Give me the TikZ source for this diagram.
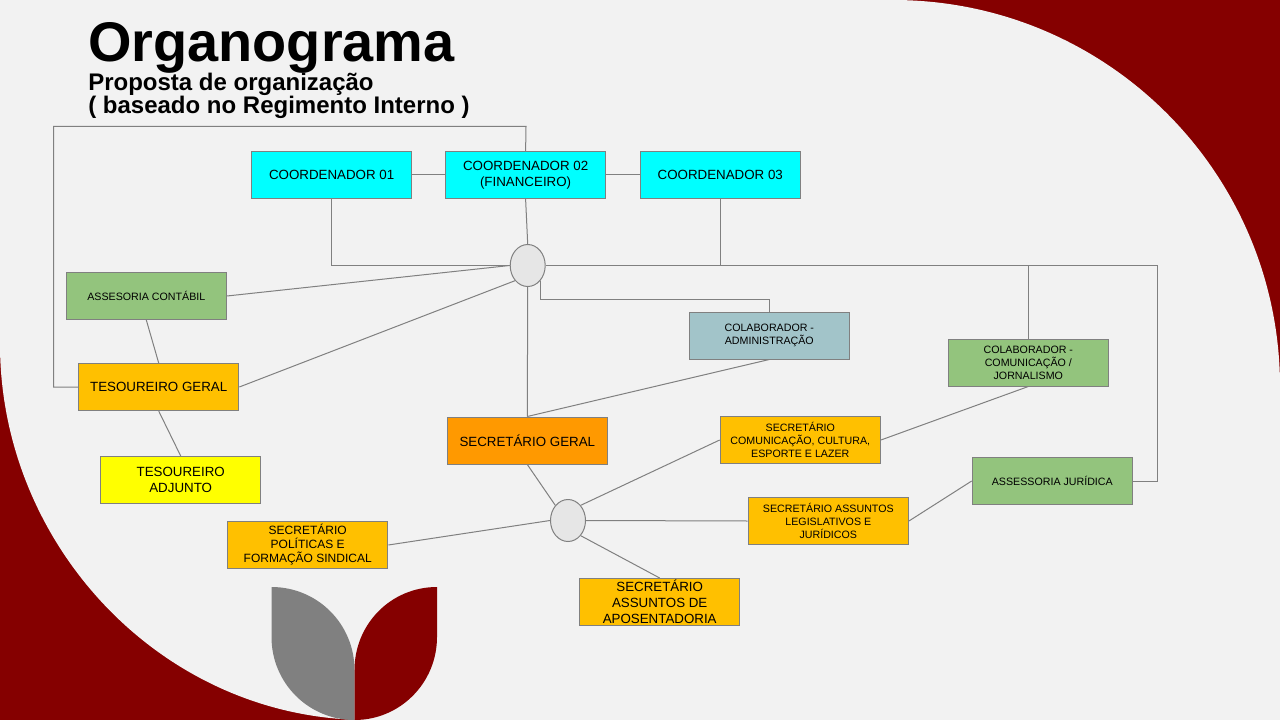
\documentclass[tikz,border=0pt]{standalone}
\usepackage{fontspec}
\setmainfont{Liberation Sans}
\usetikzlibrary{shapes.geometric}
\definecolor{bgc}{HTML}{F2F2F2}
\definecolor{darkred}{HTML}{850000}
\definecolor{linec}{HTML}{808080}
\definecolor{cyanbox}{HTML}{00FFFF}
\definecolor{amberbox}{HTML}{FFC000}
\definecolor{orangebox}{HTML}{FF9900}
\definecolor{yellowbox}{HTML}{FFFF00}
\definecolor{greenbox}{HTML}{93C47D}
\definecolor{tealbox}{HTML}{A2C4C9}
\definecolor{hubc}{HTML}{E6E6E6}
\tikzset{
  x=0.75pt,y=-0.75pt,
  orgbox/.style={draw=linec,line width=0.75pt,rectangle,minimum width=120.2pt,minimum height=35.25pt,inner sep=0pt,align=center},
  bigt/.style={font=\fontsize{10}{12}\selectfont},
  midt/.style={font=\fontsize{9}{10.5}\selectfont},
  smallt/.style={font=\fontsize{8}{9.7}\selectfont},
  hub/.style={draw=linec,line width=0.75pt,fill=hubc,ellipse,minimum width=26.25pt,minimum height=31.5pt,inner sep=0pt},
  link/.style={draw=linec,line width=0.75pt},
}
\begin{document}
\begin{tikzpicture}
\useasboundingbox (0,0) rectangle (1280,720);
\fill[darkred] (0,0) rectangle (1280,720);
\fill[bgc] (0,0) -- (893,0) .. controls (1107,0) and (1280,173) .. (1280,387)
  -- (1280,720) -- (368,720) .. controls (163,720) and (0,546) .. (0,344) -- cycle;
\fill[linec] (271.5,587) .. controls (317.5,587) and (354.5,624) .. (354.5,670) -- (354.5,720)
  .. controls (308.5,720) and (271.5,683) .. (271.5,637) -- cycle;
\fill[darkred] (437,587) .. controls (391,587) and (354.5,624) .. (354.5,670) -- (354.5,720)
  .. controls (400,720) and (437,683) .. (437,637) -- cycle;
\node[anchor=base west,inner sep=0pt,font=\bfseries\fontsize{41.9}{50}\selectfont] (title) at (88,62) {Organograma};
\node[anchor=base west,inner sep=0pt,align=left,font=\bfseries\fontsize{18}{17.25}\selectfont] (sub) at (88,113.5) {Proposta de organização\\( baseado no Regimento Interno )};
% nodes
\node[orgbox,bigt,fill=cyanbox] (c1) at (331.6,175) {COORDENADOR 01};
\node[orgbox,bigt,fill=cyanbox] (c2) at (525.6,175) {COORDENADOR 02\\(FINANCEIRO)};
\node[orgbox,bigt,fill=cyanbox] (c3) at (720.3,175) {COORDENADOR 03};
\node[orgbox,smallt,fill=greenbox] (contab) at (146.3,296) {ASSESORIA CONTÁBIL};
\node[orgbox,bigt,fill=amberbox] (tes) at (158.7,387) {TESOUREIRO GERAL};
\node[orgbox,bigt,fill=yellowbox] (adj) at (180.7,480) {TESOUREIRO\\ADJUNTO};
\node[orgbox,bigt,fill=orangebox] (sg) at (527.3,440.5) {SECRETÁRIO GERAL};
\node[orgbox,smallt,fill=tealbox] (adm) at (769.3,335.5) {COLABORADOR -\\ADMINISTRAÇÃO};
\node[orgbox,smallt,fill=greenbox] (com) at (1028.3,362.5) {COLABORADOR -\\COMUNICAÇÃO /\\JORNALISMO};
\node[orgbox,smallt,fill=amberbox] (scom) at (800.3,440) {SECRETÁRIO\\COMUNICAÇÃO, CULTURA,\\ESPORTE E LAZER};
\node[orgbox,smallt,fill=amberbox] (sleg) at (828.3,521) {SECRETÁRIO ASSUNTOS\\LEGISLATIVOS E\\JURÍDICOS};
\node[orgbox,smallt,fill=greenbox] (jur) at (1052.3,481) {ASSESSORIA JURÍDICA};
\node[orgbox,midt,fill=amberbox] (spol) at (307.7,545) {SECRETÁRIO\\POLÍTICAS E\\FORMAÇÃO SINDICAL};
\node[orgbox,bigt,fill=amberbox] (apos) at (659.7,602) {SECRETÁRIO\\ASSUNTOS DE\\APOSENTADORIA};
\node[hub] (e1) at (527.7,265.5) {};
\node[hub] (e2) at (568,520.5) {};
% elbow coordinates
\coordinate (topr) at (526,126.5);
\coordinate (topl) at (53.5,126.5);
\coordinate (botl) at (53.5,387);
\coordinate (rtop) at (1157.5,265.5);
\coordinate (rbot) at (1157.5,481);
\coordinate (admy) at (769.3,299.5);
% connectors
\draw[link] (c2.north) -- (topr) -- (topl) -- (botl) -- (tes.west);
\draw[link] (c1.east) -- (c2.west);
\draw[link] (c2.east) -- (c3.west);
\draw[link] (c2.south) -- (e1.north);
\draw[link] (c1.south) |- (e1.west);
\draw[link] (c3.south) |- (e1.east);
\draw[link] (e1.east) -- (rtop) -- (rbot) -- (jur.east);
\draw[link] (com.north) -- (com.north |- rtop);
\draw[link] (e1.south east) |- (admy) -- (adm.north);
\draw[link] (contab.east) -- (e1.west);
\draw[link] (tes.east) -- (e1.south west);
\draw[link] (e1.south) -- (sg.north);
\draw[link] (contab.south) -- (tes.north);
\draw[link] (tes.south) -- (adj.north);
\draw[link] (sg.north) -- (adm.south);
\draw[link] (sg.south) -- (e2.north west);
\draw[link] (e2.north east) -- (scom.west);
\draw[link] (scom.east) -- (com.south);
\draw[link] (e2.east) -- (sleg.west);
\draw[link] (sleg.east) -- (jur.west);
\draw[link] (e2.west) -- (spol.east);
\draw[link] (e2.south east) -- (apos.north);
\end{tikzpicture}
\end{document}
